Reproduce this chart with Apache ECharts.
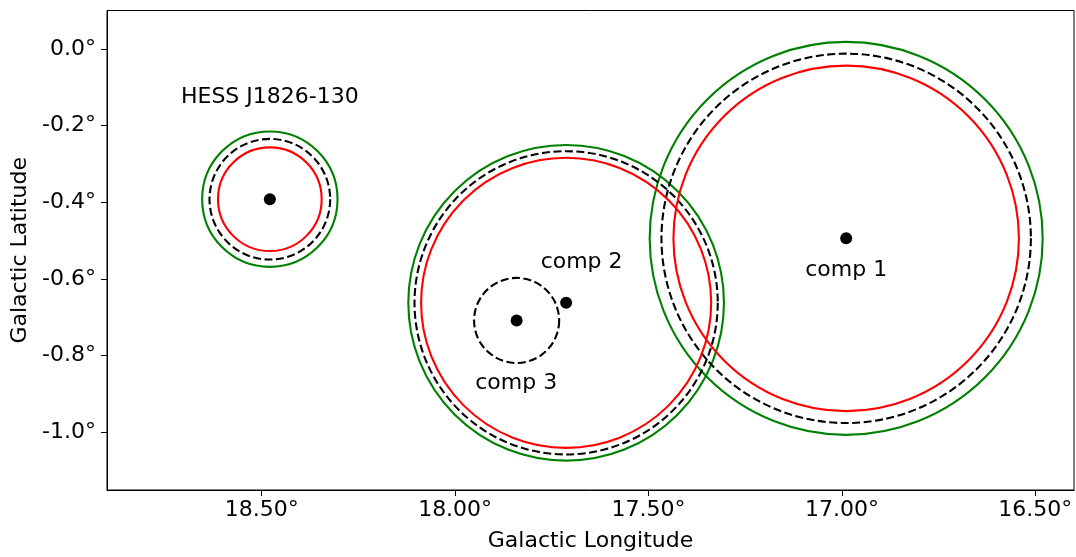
<!DOCTYPE html>
<html>
<head>
<meta charset="utf-8">
<script src="https://cdn.jsdelivr.net/npm/echarts@6/dist/echarts.min.js"></script>
<style>
html,body{margin:0;padding:0;background:#fff;}
#chart{width:1076px;height:557px;}
</style>
</head>
<body>
<div id="chart"></div>
<script>
// ---- data (degrees) ----
const sourceNames = ['HESS J1826-130', 'comp 1', 'comp 2', 'comp 3'];
const centerLon = [18.479, 16.989, 17.713, 17.841];
const centerLat = [-0.392, -0.494, -0.662, -0.708];
// ring radii (deg); null = ring not drawn
const outerRadius = [0.175, 0.508, 0.408, null];   // green
const middleRadius = [0.156, 0.4775, 0.392, 0.110]; // black dashed
const innerRadius = [0.134, 0.4466, 0.375, null];  // red
// label anchor positions (deg)
const labelLon = [18.479, 16.989, 17.673, 17.842];
const labelLat = [-0.127, -0.578, -0.557, -0.871];

const xTicks = [18.5, 18.0, 17.5, 17.0, 16.5];
const yTicks = [0.0, -0.2, -0.4, -0.6, -0.8, -1.0];
const xRange = [16.40, 18.90];
const yRange = [-1.15, 0.10];

const FONT = "'DejaVu Sans'";
const FS = 22;

function ringData(radii) {
  const out = [];
  radii.forEach((r, i) => { if (r !== null) out.push([centerLon[i], centerLat[i], r]); });
  return out;
}
function ringSeries(radii, color, dash) {
  return {
    type: 'custom',
    coordinateSystem: 'cartesian2d',
    data: ringData(radii),
    silent: true,
    z: 3,
    renderItem: function (params, api) {
      const c = api.coord([api.value(0), api.value(1)]);
      const s = api.size([api.value(2), api.value(2)], [api.value(0), api.value(1)]);
      return {
        type: 'circle',
        shape: { cx: c[0], cy: c[1], r: Math.abs(s[0]) },
        style: { fill: 'none', stroke: color, lineWidth: 2.1, lineDash: dash || null }
      };
    }
  };
}

const chart = echarts.init(document.getElementById('chart'), null, { renderer: 'canvas' });
chart.setOption({
  backgroundColor: '#fff',
  animation: false,
  grid: {
    left: 107, right: 2, top: 10.5, bottom: 66,
    show: true, borderColor: '#000', borderWidth: 1, backgroundColor: 'transparent'
  },
  xAxis: {
    type: 'value', min: xRange[0], max: xRange[1], inverse: true,
    name: 'Galactic Longitude', nameLocation: 'middle', nameGap: 40,
    nameTextStyle: { fontFamily: FONT, fontSize: FS, color: '#000' },
    axisLine: { show: true, onZero: false, lineStyle: { color: '#000', width: 1 } },
    axisTick: { show: true, length: 6, customValues: xTicks, lineStyle: { color: '#000', width: 1 } },
    axisLabel: {
      customValues: xTicks, margin: 9, fontFamily: FONT, fontSize: FS, color: '#000',
      formatter: v => v.toFixed(2) + '°'
    },
    splitLine: { show: false }
  },
  yAxis: {
    type: 'value', min: yRange[0], max: yRange[1],
    name: 'Galactic Latitude', nameLocation: 'middle', nameGap: 67,
    nameTextStyle: { fontFamily: FONT, fontSize: FS, color: '#000' },
    axisLine: { show: true, onZero: false, lineStyle: { color: '#000', width: 1 } },
    axisTick: { show: true, length: 6, customValues: yTicks, lineStyle: { color: '#000', width: 1 } },
    axisLabel: {
      customValues: yTicks, margin: 11, fontFamily: FONT, fontSize: FS, color: '#000',
      formatter: v => (Math.abs(v) < 1e-9 ? 0 : v).toFixed(1) + '°'
    },
    splitLine: { show: false }
  },
  series: [
    ringSeries(outerRadius, '#008000', null),
    ringSeries(middleRadius, '#000000', [8, 3.5]),
    ringSeries(innerRadius, '#ff0000', null),
    {
      type: 'scatter',
      data: centerLon.map((x, i) => [x, centerLat[i]]),
      symbol: 'circle', symbolSize: 12,
      itemStyle: { color: '#000', opacity: 1 },
      silent: true, z: 4
    },
    {
      type: 'scatter',
      data: labelLon.map((x, i) => ({ value: [x, labelLat[i]], name: sourceNames[i] })),
      symbolSize: 1,
      itemStyle: { color: 'rgba(0,0,0,0)', opacity: 1 },
      label: {
        show: true, position: 'inside', formatter: p => p.name,
        fontFamily: FONT, fontSize: FS, color: '#000', opacity: 1
      },
      silent: true, z: 5
    }
  ]
});
</script>
</body>
</html>
